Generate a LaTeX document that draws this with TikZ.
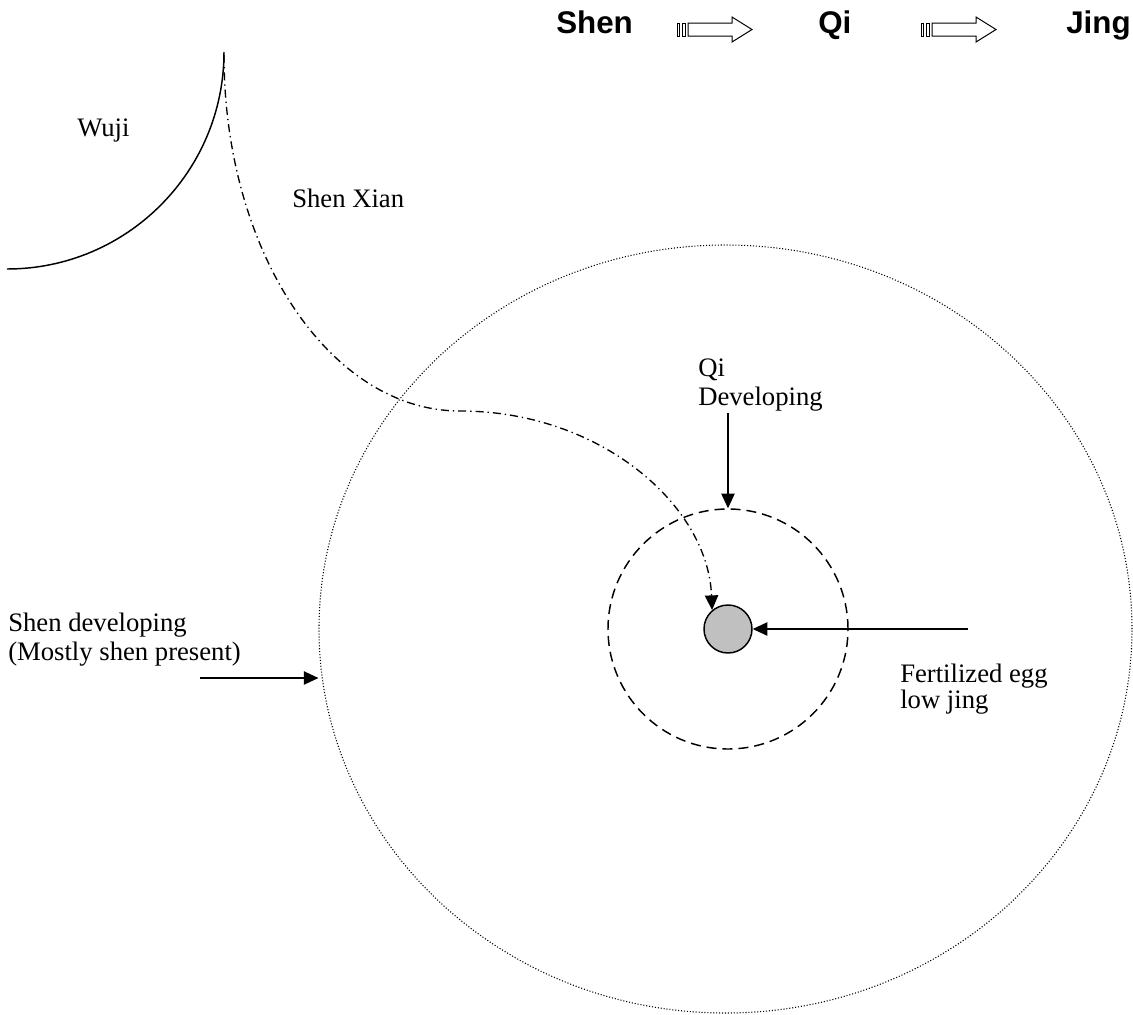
\documentclass[tikz,border=0pt]{standalone}
\usepackage{fontspec}
\setmainfont{Liberation Serif}
\newfontfamily\headfont{Liberation Sans}
\usetikzlibrary{arrows.meta,shapes.geometric}
\definecolor{egggray}{HTML}{C0C0C0}
\begin{document}
\begin{tikzpicture}[x=0.75pt,y=-0.75pt,
  lbl/.style={anchor=base west,inner sep=0pt,font=\fontsize{20}{24}\selectfont},
  head/.style={anchor=base west,inner sep=0pt,font=\headfont\bfseries\fontsize{23.5}{28}\selectfont},
  conn/.style={line width=1.1pt,-{Triangle[length=11pt,width=10pt]}},
  dashdotline/.style={line width=1pt,dash pattern=on 6pt off 3pt on 1pt off 3pt},
  blockarrow/.pic={
    \draw[line width=0.75pt] (0.5,0) rectangle (2.5,13);
    \draw[line width=0.75pt] (5,0) rectangle (8.5,13);
    \draw[line width=0.75pt] (11,0) -- (55,0) -- (55,-6) -- (75,6.5) -- (55,19) -- (55,13) -- (11,13) -- cycle;
  }]
\useasboundingbox (0,0) rectangle (1133,1015);

% regions
\node[draw,ellipse,minimum width=609.75pt,minimum height=576pt,inner sep=0pt,
      line width=0.8pt,dash pattern=on 0.8pt off 1.4pt] (shen) at (725.5,629) {};
\node[draw,circle,minimum size=180pt,inner sep=0pt,line width=1.1pt,
      dash pattern=on 7.5pt off 4.5pt] (qic) at (728,629) {};
\node[draw,circle,fill=egggray,minimum size=36pt,inner sep=0pt,line width=1.1pt] (egg) at (728,629) {};

% Wuji arc
\draw[line width=1.1pt] (224,52) .. controls (224,171.8) and (126.8,269) .. (7,269);

% heading
\node[head] (hshen) at (556,33) {Shen};
\pic at (677,23) {blockarrow};
\node[head] (hqi) at (818,33) {Qi};
\pic at (921,23) {blockarrow};
\node[head] (hjing) at (1066,33) {Jing};

% labels
\node[lbl] (wuji) at (77,136) {Wuji};
\node[lbl] (xian) at (292,207) {Shen Xian};
\node[lbl] (qi1) at (698,376) {Qi};
\node[lbl] (qi2) at (698,405) {Developing};
\node[lbl] (sd1) at (8,631) {Shen developing};
\node[lbl] (sd2) at (8,660) {(Mostly shen present)};
\node[lbl] (fe1) at (900,682) {Fertilized egg};
\node[lbl] (fe2) at (900,708) {low jing};

% connectors
\coordinate (sxstart) at (224,55);
\draw[conn,dashdotline] (sxstart) .. controls (224,252) and (330,411) .. (460,411)
   .. controls (600,411) and (708,505) .. (egg.130);
\coordinate (qistart) at (728,413);
\draw[conn] (qistart) -- (qic.north);
\coordinate (sdstart) at (200,678);
\draw[conn] (sdstart) -- (sdstart -| shen.west);
\coordinate (festart) at (968,629);
\draw[conn] (festart) -- (egg.east);
\end{tikzpicture}
\end{document}
